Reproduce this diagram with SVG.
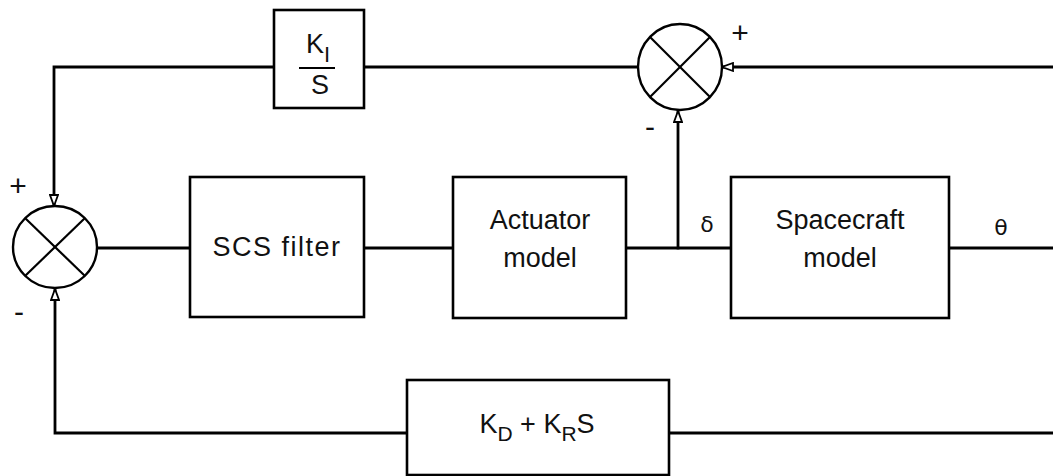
<svg xmlns="http://www.w3.org/2000/svg" width="1053" height="476" viewBox="0 0 1053 476">
<style>
.ln{fill:none;stroke:#000;stroke-width:2.8;stroke-linecap:square}
.bx{fill:#fff;stroke:#000;stroke-width:2.6}
.sj{fill:#fff;stroke:#000;stroke-width:2.4}
.x{stroke:#000;stroke-width:2.2}
.t{font-family:"Liberation Sans",Arial,sans-serif;font-size:27px;fill:#111;text-anchor:middle}
.s{font-family:"Liberation Sans",Arial,sans-serif;font-size:30px;fill:#111;text-anchor:middle}
.g{font-family:"DejaVu Sans",sans-serif;font-size:22px;fill:#111;text-anchor:middle}
</style>
<defs>
<marker id="ah" markerWidth="14" markerHeight="10" refX="12" refY="5" orient="auto" markerUnits="userSpaceOnUse">
<path d="M1,1 L12,5 L1,9 Z" fill="#fff" stroke="#000" stroke-width="1.8" stroke-linejoin="miter"/>
</marker>
</defs>
<rect width="1053" height="476" fill="#fff"/>
<g id="connectors">
<path class="ln" d="M1053,67 H722" marker-end="url(#ah)"/>
<path class="ln" d="M678,248 V111" marker-end="url(#ah)"/>
<path class="ln" d="M638,67 H364"/>
<path class="ln" d="M274,67 H54 V206" marker-end="url(#ah)"/>
<path class="ln" d="M97,248 H190"/>
<path class="ln" d="M364,248 H453"/>
<path class="ln" d="M626,248 H731"/>
<path class="ln" d="M949,248 H1053"/>
<path class="ln" d="M1053,433 H669"/>
<path class="ln" d="M407,433 H55 V289" marker-end="url(#ah)"/>
</g>
<g id="sum-top">
<ellipse class="sj" cx="680" cy="67" rx="42" ry="43"/>
<line class="x" x1="650" y1="37" x2="710" y2="97"/>
<line class="x" x1="710" y1="37" x2="650" y2="97"/>
<text class="s" x="740" y="43">+</text>
<text class="s" x="650" y="137">-</text>
</g>
<g id="sum-left">
<ellipse class="sj" cx="55" cy="247" rx="42" ry="41"/>
<line class="x" x1="25" y1="218" x2="85" y2="276"/>
<line class="x" x1="85" y1="218" x2="25" y2="276"/>
<text class="s" x="18" y="196">+</text>
<text class="s" x="19" y="322">-</text>
</g>
<g id="ki-block">
<rect class="bx" x="274" y="10" width="90" height="98"/>
<text class="t" x="318" y="53">K<tspan font-size="22" dy="9">I</tspan></text>
<line x1="299" y1="68" x2="335" y2="68" stroke="#000" stroke-width="2"/>
<text class="t" x="320" y="94">S</text>
</g>
<g id="scs-filter">
<rect class="bx" x="190" y="177" width="174" height="140"/>
<text class="t" x="277" y="256" letter-spacing="1.5">SCS filter</text>
</g>
<g id="actuator">
<rect class="bx" x="453" y="177" width="173" height="141"/>
<text class="t" x="540" y="229">Actuator</text>
<text class="t" x="540" y="267">model</text>
</g>
<g id="spacecraft">
<rect class="bx" x="731" y="177" width="218" height="141"/>
<text class="t" x="840" y="229">Spacecraft</text>
<text class="t" x="840" y="267">model</text>
<text class="g" x="707" y="232">δ</text>
<text class="g" x="1001" y="235">θ</text>
</g>
<g id="kd-block">
<rect class="bx" x="407" y="380" width="262" height="95"/>
<text class="t" x="537" y="433">K<tspan font-size="21" dy="8">D</tspan><tspan dy="-8"> + K</tspan><tspan font-size="21" dy="8">R</tspan><tspan dy="-8">S</tspan></text>
</g>
</svg>
